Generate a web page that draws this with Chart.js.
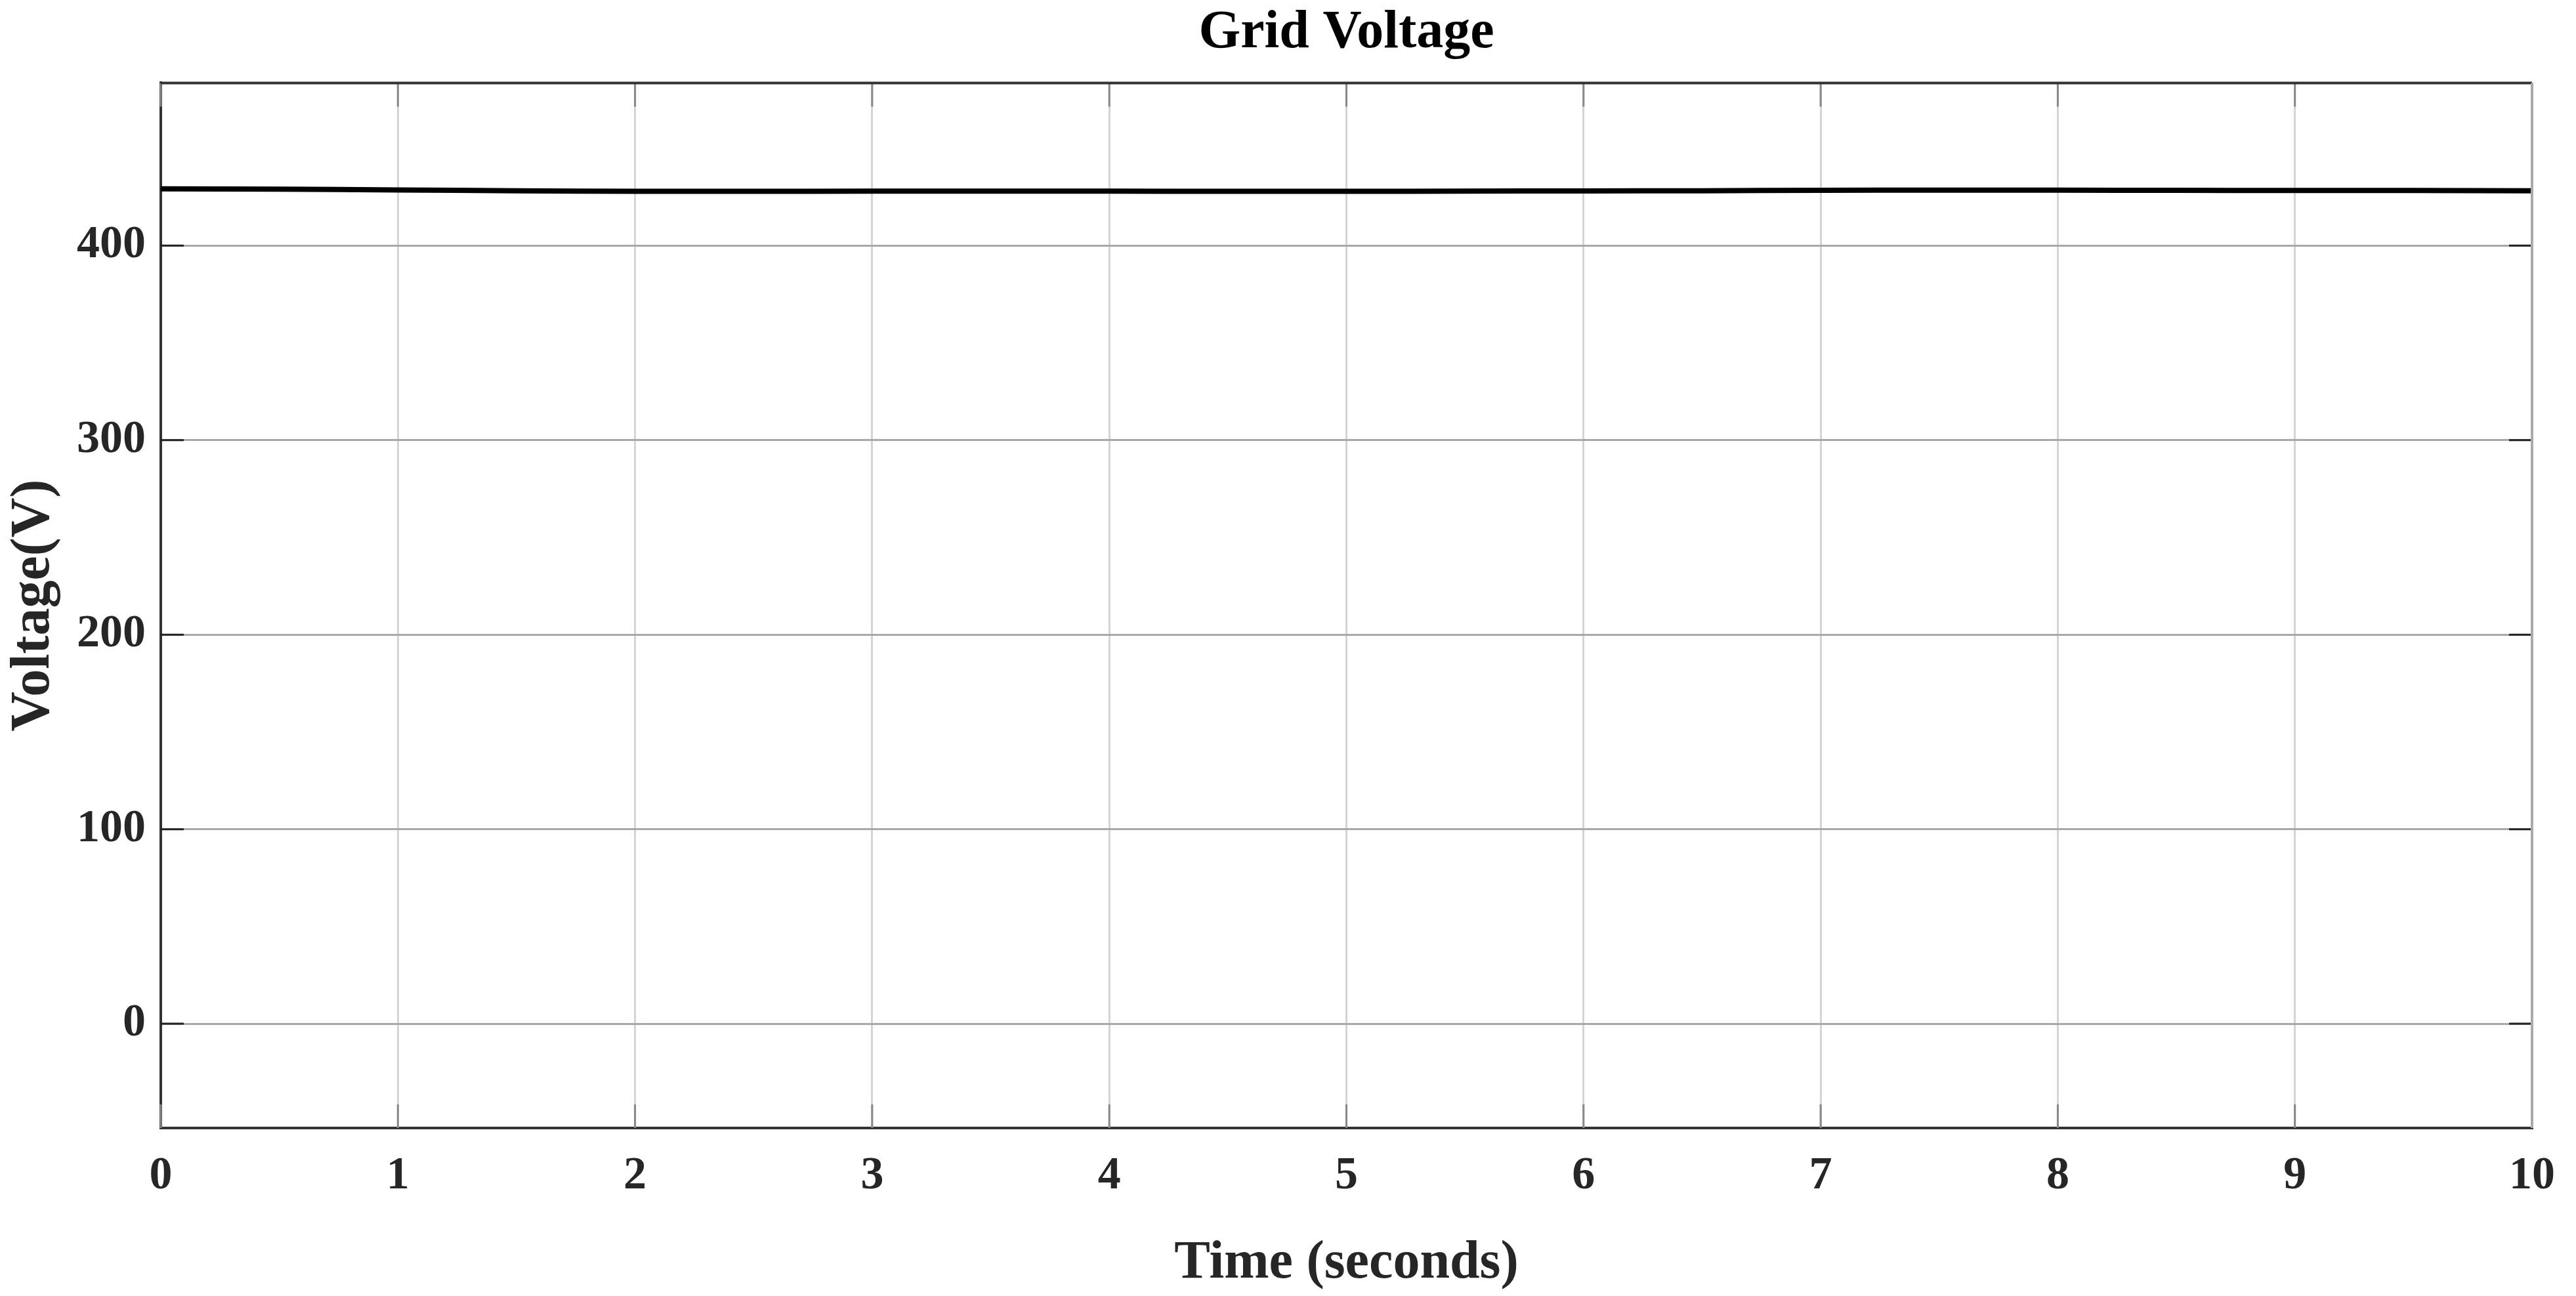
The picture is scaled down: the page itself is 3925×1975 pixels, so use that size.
<!DOCTYPE html>
<html>
<head>
<meta charset="utf-8">
<script src="https://cdn.jsdelivr.net/npm/chart.js@4"></script>
<style>
  body { margin: 0; background: #fff; }
  #wrap { width: 3925px; height: 1975px; }
</style>
</head>
<body>
<div id="wrap"><canvas id="Linechart" width="3925" height="1975"></canvas></div>
<script>
// time (s) and grid voltage (V)
var times = [0, 0.5, 1, 1.5, 2, 2.5, 3, 3.5, 4, 4.5, 5, 5.5, 6, 6.5, 7, 7.5, 8, 8.5, 9, 9.5, 10]
var voltage = [429.2, 429.0, 428.6, 428.2, 427.9, 427.9, 428.0, 428.0, 428.0, 427.9, 427.9,
               428.0, 428.1, 428.2, 428.4, 428.5, 428.5, 428.4, 428.3, 428.3, 428.2]
var yTicks = [0, 100, 200, 300, 400]
var xTicks = [0, 1, 2, 3, 4, 5, 6, 7, 8, 9, 10]

var FONT = "'Liberation Serif', 'DejaVu Serif', serif"

let points = times.map((t, i) => ({ x: t, y: voltage[i] }))

// matlab style box + inward ticks
const boxPlugin = {
    id: 'box',
    afterDraw(chart) {
        const ctx = chart.ctx
        const a = chart.chartArea
        const xs = chart.scales.x
        const ys = chart.scales.y
        ctx.save()
        ctx.lineWidth = 3
        ctx.strokeStyle = '#888'
        xs.ticks.forEach(t => {
            let px = xs.getPixelForValue(t.value)
            ctx.beginPath()
            ctx.moveTo(px, a.bottom); ctx.lineTo(px, a.bottom - 36)
            ctx.moveTo(px, a.top); ctx.lineTo(px, a.top + 36)
            ctx.stroke()
        })
        ctx.strokeStyle = '#222'
        ys.ticks.forEach(t => {
            let py = ys.getPixelForValue(t.value)
            ctx.beginPath()
            ctx.moveTo(a.left, py); ctx.lineTo(a.left + 35, py)
            ctx.moveTo(a.right, py); ctx.lineTo(a.right - 35, py)
            ctx.stroke()
        })
        ctx.lineWidth = 4
        ctx.strokeStyle = '#333'
        ctx.beginPath()
        ctx.moveTo(a.left, a.top); ctx.lineTo(a.right, a.top)
        ctx.stroke()
        ctx.strokeStyle = '#aaa'
        ctx.beginPath()
        ctx.moveTo(a.right, a.top); ctx.lineTo(a.right, a.bottom)
        ctx.stroke()
        ctx.restore()
    }
}

let config = {
    type: 'line',
    data: {
        datasets: [{
            label: 'Grid Voltage',
            data: points,
            borderColor: '#000',
            borderWidth: 8,
            pointRadius: 0,
            tension: 0.3,
            fill: false
        }]
    },
    options: {
        responsive: false,
        animation: false,
        devicePixelRatio: 1,
        layout: {
            padding: { left: 0, right: 61, top: 0, bottom: 0 }
        },
        plugins: {
            legend: { display: false },
            tooltip: { enabled: false },
            title: {
                display: true,
                fullSize: false,
                text: 'Grid Voltage',
                color: '#000',
                font: { family: FONT, size: 82, weight: 'bold', lineHeight: 1.2 },
                padding: { top: 2, bottom: 26 }
            }
        },
        scales: {
            x: {
                type: 'linear',
                min: 0,
                max: 10,
                afterBuildTicks: (s) => { s.ticks = xTicks.map(v => ({ value: v })) },
                afterFit: (s) => { s.height = 256 },
                grid: {
                    color: '#d4d4d4',
                    lineWidth: 3,
                    drawTicks: false
                },
                border: { color: '#333', width: 4 },
                ticks: {
                    color: '#262626',
                    padding: 32,
                    maxRotation: 0,
                    font: { family: FONT, size: 70, weight: 'bold' }
                },
                title: {
                    display: true,
                    text: 'Time (seconds)',
                    color: '#262626',
                    font: { family: FONT, size: 82, weight: 'bold', lineHeight: 1.2 },
                    padding: { top: 0, bottom: 0 }
                }
            },
            y: {
                type: 'linear',
                min: -53.6,
                max: 483.6,
                afterBuildTicks: (s) => { s.ticks = yTicks.map(v => ({ value: v })) },
                afterFit: (s) => { s.width = 245 },
                grid: {
                    color: '#a8a8a8',
                    lineWidth: 3,
                    drawTicks: false
                },
                border: { color: '#333', width: 4 },
                ticks: {
                    color: '#262626',
                    padding: 23,
                    font: { family: FONT, size: 70, weight: 'bold' }
                },
                title: {
                    display: true,
                    text: 'Voltage(V)',
                    color: '#262626',
                    font: { family: FONT, size: 84, weight: 'bold', lineHeight: 1.2 },
                    padding: { top: 2, bottom: 0 }
                }
            }
        }
    },
    plugins: [boxPlugin]
}

var LineChart = new Chart(document.getElementById('Linechart'), config)
</script>
</body>
</html>
